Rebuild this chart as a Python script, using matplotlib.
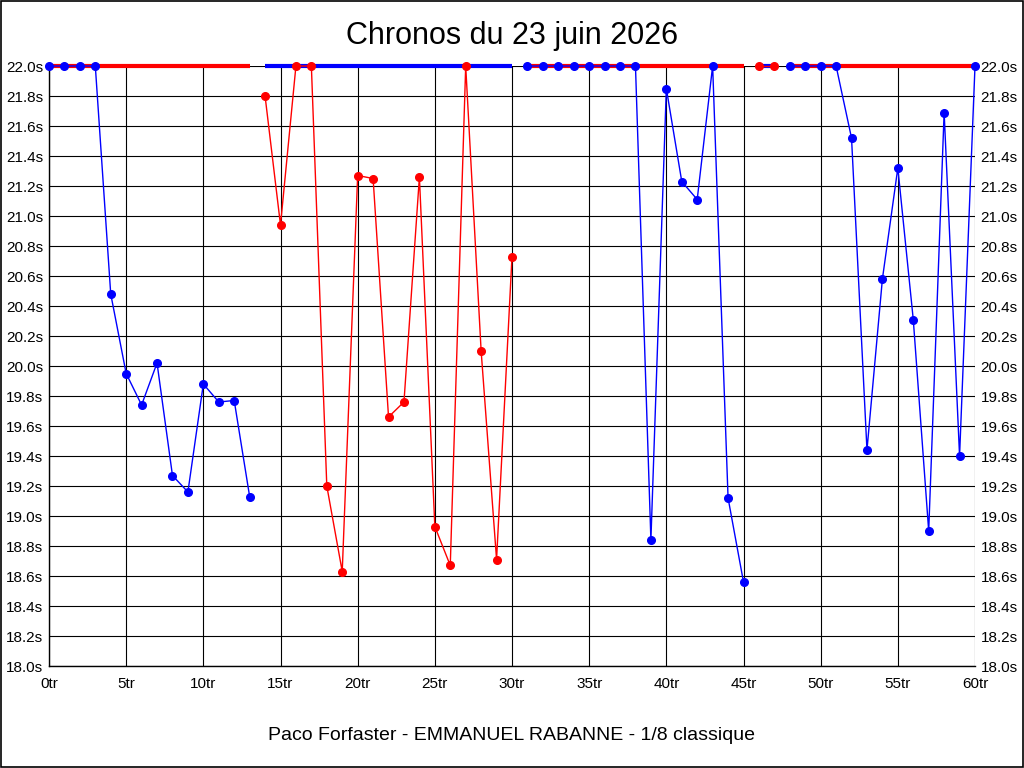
import numpy as np
import matplotlib
matplotlib.use("Agg")
import matplotlib.pyplot as plt
from matplotlib.patches import Rectangle

plt.rcParams["font.family"] = ["Liberation Sans", "DejaVu Sans"]

# Lap times (s) per stint, 22.0 = capped value
stint1_laps = list(range(0, 14))
stint1_times = [22.0, 22.0, 22.0, 22.0, 20.48, 19.95, 19.74, 20.02, 19.27, 19.16,
                19.88, 19.76, 19.77, 19.13]

stint2_laps = list(range(14, 31))
stint2_times = [21.80, 20.94, 22.0, 22.0, 19.20, 18.63, 21.27, 21.25, 19.66, 19.76,
                21.26, 18.93, 18.67, 22.0, 20.10, 18.71, 20.73]

stint3_laps = list(range(31, 46))
stint3_times = [22.0, 22.0, 22.0, 22.0, 22.0, 22.0, 22.0, 22.0, 18.84, 21.85,
                21.23, 21.11, 22.0, 19.12, 18.56]

stint4_laps = [46, 47]
stint4_times = [22.0, 22.0]

stint5_laps = list(range(48, 61))
stint5_times = [22.0, 22.0, 22.0, 22.0, 21.52, 19.44, 20.58, 21.32, 20.31, 18.90,
                21.69, 19.40, 22.0]

stints = [
    (stint1_laps, stint1_times, "blue"),
    (stint2_laps, stint2_times, "red"),
    (stint3_laps, stint3_times, "blue"),
    (stint4_laps, stint4_times, "red"),
    (stint5_laps, stint5_times, "blue"),
]

y_min, y_max = 18.0, 22.0
x_min, x_max = 0, 60

fig = plt.figure(figsize=(10.24, 7.68), dpi=100)
ax = fig.add_axes([49 / 1024, 1 - 666 / 768, 926 / 1024, 600 / 768])

# Grid
ax.set_xticks(np.arange(x_min, x_max + 1, 5))
ax.set_yticks(np.round(np.arange(y_min, y_max + 0.01, 0.2), 1))
ax.grid(True, color="black", linewidth=0.8)
ax.set_axisbelow(True)

# Thick line at the top for the driver who is not on track
for laps, times, color in stints:
    other = "red" if color == "blue" else "blue"
    ax.plot([laps[0], laps[-1]], [y_max, y_max], color=other,
            linewidth=3, solid_capstyle="butt", clip_on=False, zorder=3)

# Lap time curves
for laps, times, color in stints:
    ax.plot(laps, times, color=color, linewidth=1, marker="o",
            markersize=5.5, clip_on=False, zorder=4)

ax.set_xlim(x_min, x_max)
ax.set_ylim(y_min, y_max)

ax.set_xticklabels([f"{v}tr" for v in range(x_min, x_max + 1, 5)])
ax.set_yticklabels([f"{v:.1f}s" for v in ax.get_yticks()])
ax.tick_params(axis="both", length=0, labelsize=11)
ax.tick_params(axis="x", pad=8)
ax.tick_params(axis="y", pad=4, labelright=True)

for side in ["top", "right"]:
    ax.spines[side].set_visible(False)
for side in ["left", "bottom"]:
    ax.spines[side].set_linewidth(1)

fig.text(0.5, 1 - 36 / 768, "Chronos du 23 juin 2026",
         ha="center", va="center", fontsize=22)
fig.text(0.5, 1 - 735 / 768, "Paco Forfaster - EMMANUEL RABANNE - 1/8 classique",
         ha="center", va="center", fontsize=14)

# Frame around the whole picture
fig.patches.append(Rectangle((0.0005, 0.0007), 0.999, 0.9986, transform=fig.transFigure,
                             fill=False, edgecolor="black", linewidth=1.2))

fig.savefig("out.png", dpi=100, facecolor="white")
